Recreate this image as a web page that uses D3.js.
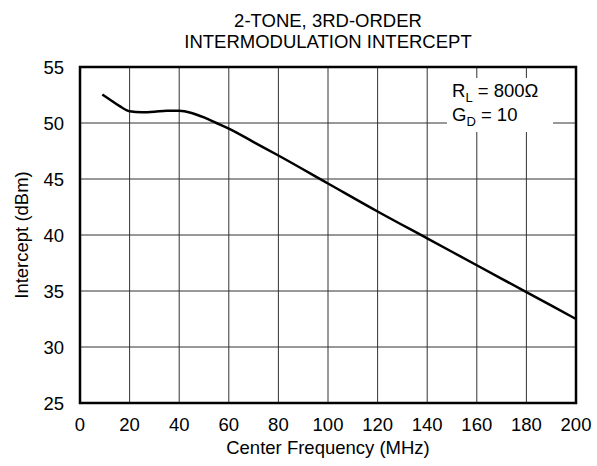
<!DOCTYPE html>
<meta charset="utf-8">
<style>
body { margin: 0; background: #fff; }
text { font-family: "Liberation Sans", Arial, sans-serif; fill: #000; }
</style>
<svg width="597" height="466"></svg>
<script src="https://cdn.jsdelivr.net/npm/d3@7"></script>
<script>
// curve
var freq = [9, 12, 16, 20, 25, 30, 35, 40, 45, 50, 55, 60, 70, 80, 100, 120, 140, 160, 180, 200]
var intercept = [52.55, 52.1, 51.5, 51.05, 50.95, 51.0, 51.1, 51.1, 50.9, 50.5, 50.0, 49.5, 48.3, 47.1, 44.6, 42.1, 39.7, 37.3, 34.9, 32.5]
var xTicks = [0, 20, 40, 60, 80, 100, 120, 140, 160, 180, 200]
var yTicks = [25, 30, 35, 40, 45, 50, 55]
var titleLines = ["2-TONE, 3RD-ORDER", "INTERMODULATION INTERCEPT"]

var svg = d3.select("svg")
var pl = 80, pr = 576, pt = 67, pb = 403

var x = d3.scaleLinear().domain([0, 200]).range([pl, pr])
var y = d3.scaleLinear().domain([25, 55]).range([pb, pt])

// grid
svg.append("g")
  .selectAll("line")
  .data(xTicks.slice(1, -1))
  .enter().append("line")
    .attr("x1", d => x(d)).attr("x2", d => x(d))
    .attr("y1", pt).attr("y2", pb)
    .attr("stroke", "#333").attr("stroke-width", 1)

svg.append("g")
  .selectAll("line")
  .data(yTicks.slice(1, -1))
  .enter().append("line")
    .attr("x1", pl).attr("x2", pr)
    .attr("y1", d => y(d)).attr("y2", d => y(d))
    .attr("stroke", "#333").attr("stroke-width", 1)

// legend box blanks the grid
svg.append("rect")
  .attr("x", 447).attr("y", 78).attr("width", 106).attr("height", 54)
  .attr("fill", "#fff")

var lg = svg.append("g").attr("font-size", 18.5)
var t1 = lg.append("text").attr("x", 452).attr("y", 97)
t1.append("tspan").text("R")
t1.append("tspan").attr("font-size", 13).attr("dy", 5).text("L")
t1.append("tspan").attr("dy", -5).text(" = 800\u03A9")
var t2 = lg.append("text").attr("x", 452).attr("y", 121)
t2.append("tspan").text("G")
t2.append("tspan").attr("font-size", 13).attr("dy", 5).text("D")
t2.append("tspan").attr("dy", -5).text(" = 10")

// frame
svg.append("rect")
  .attr("x", pl).attr("y", pt)
  .attr("width", pr - pl).attr("height", pb - pt)
  .attr("fill", "none").attr("stroke", "#000").attr("stroke-width", 2.5)

// curve
var line = d3.line()
  .x(d => x(d[0]))
  .y(d => y(d[1]))
  .curve(d3.curveMonotoneX)

svg.append("path")
  .datum(d3.zip(freq, intercept))
  .attr("d", line)
  .attr("fill", "none").attr("stroke", "#000").attr("stroke-width", 2.5)

// tick labels
svg.append("g").selectAll("text")
  .data(xTicks)
  .enter().append("text")
    .attr("x", d => x(d)).attr("y", 431)
    .attr("text-anchor", "middle").attr("font-size", 18.5)
    .text(d => d)

svg.append("g").selectAll("text")
  .data(yTicks)
  .enter().append("text")
    .attr("x", 64).attr("y", d => y(d) + 7)
    .attr("text-anchor", "end").attr("font-size", 18.5)
    .text(d => d)

svg.append("text")
  .attr("x", (pl + pr) / 2).attr("y", 454)
  .attr("text-anchor", "middle").attr("font-size", 18.5)
  .text("Center Frequency (MHz)")

svg.append("text")
  .attr("transform", "translate(28," + (pt + pb) / 2 + ") rotate(-90)")
  .attr("text-anchor", "middle").attr("font-size", 18.5)
  .text("Intercept (dBm)")

svg.append("g").selectAll("text")
  .data(titleLines)
  .enter().append("text")
    .attr("x", (pl + pr) / 2).attr("y", (d, i) => 27 + i * 21)
    .attr("text-anchor", "middle").attr("font-size", 18.5)
    .text(d => d)
</script>
